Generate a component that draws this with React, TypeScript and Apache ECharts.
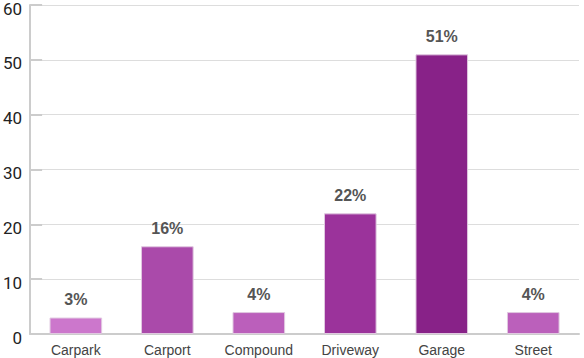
import React, { useEffect, useRef } from "react";
import * as echarts from "echarts";

const categories = ["Carpark", "Carport", "Compound", "Driveway", "Garage", "Street"];
const values = [3, 16, 4, 22, 51, 4];
const barColors = ["#cc77cc", "#aa4aaa", "#bb5fbb", "#9b339b", "#882288", "#bb60bb"];

export default function App() {
  const ref = useRef<HTMLDivElement>(null);
  useEffect(() => {
    const chart = echarts.init(ref.current!, null, { renderer: "svg" });
    chart.setOption({
      animation: false,
      grid: { left: 28.5, right: 5, top: 4, bottom: 24, containLabel: false },
      xAxis: {
        type: "category",
        data: categories,
        axisLine: { lineStyle: { color: "#cccccc", width: 2 } },
        axisTick: { inside: true, length: 7, lineStyle: { color: "#cccccc", width: 2 } },
        axisLabel: { color: "#444444", fontSize: 14, fontFamily: "Liberation Sans", margin: 9 },
      },
      yAxis: {
        type: "value",
        min: 0,
        max: 60,
        interval: 10,
        axisLine: { show: true, lineStyle: { color: "#cccccc", width: 2 } },
        axisTick: { show: true, inside: true, length: 12, lineStyle: { color: "#cccccc", width: 2 } },
        splitLine: { lineStyle: { color: "#dddddd", width: 1 } },
        axisLabel: { color: "#222222", fontSize: 17, fontFamily: "Roboto", margin: 8, verticalAlign: "top", padding: [-5, 0, 0, 0] },
      },
      series: [
        {
          type: "bar",
          barWidth: "57.5%",
          data: values.map((v, i) => ({
            value: v,
            itemStyle: { color: barColors[i], borderColor: "#e0c8e0", borderWidth: 1 },
          })),
          label: {
            show: true,
            position: "top",
            distance: 10,
            formatter: "{c}%",
            color: "#555555",
            fontWeight: "bold",
            fontSize: 16,
            fontFamily: "Liberation Sans",
          },
        },
      ],
    });
    return () => chart.dispose();
  }, []);
  return <div ref={ref} style={{ width: 584, height: 358, position: "absolute", left: 0, top: 0 }} />;
}
